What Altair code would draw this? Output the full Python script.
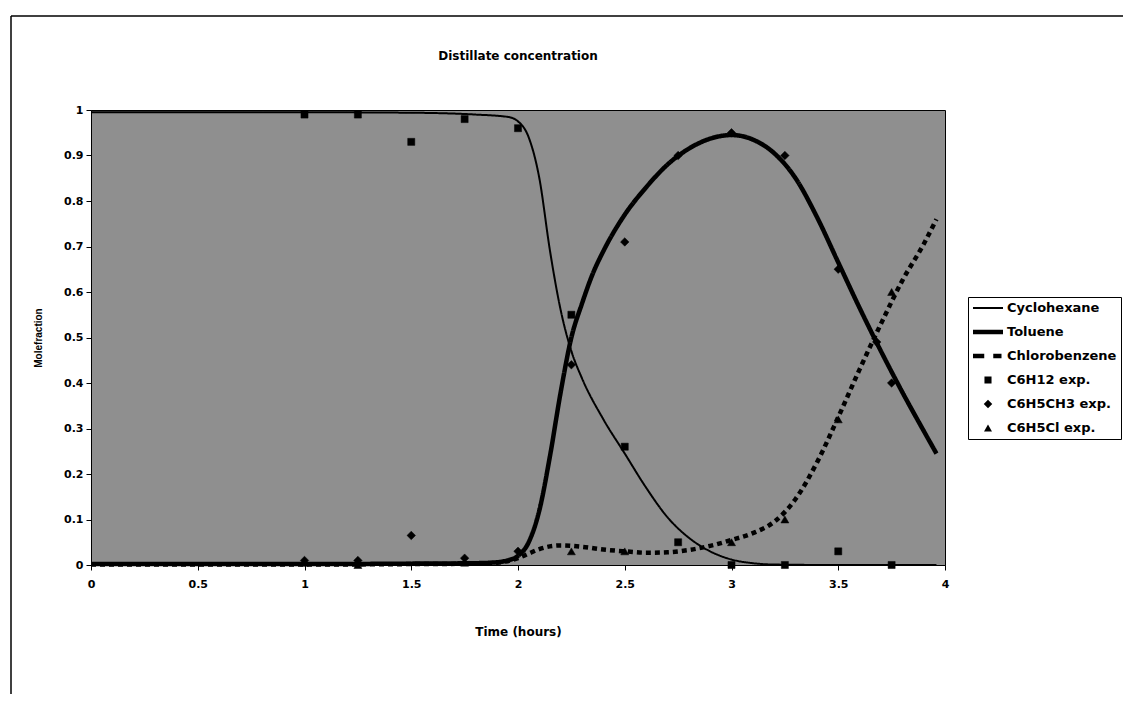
import altair as alt
import pandas as pd

# ---- model curves ----
cyc_t = [0, 0.5, 1.0, 1.5, 1.8, 1.95, 2.0, 2.05, 2.1, 2.15, 2.2, 2.25, 2.3, 2.4, 2.5, 2.6, 2.7, 2.8, 2.9, 3.0, 3.1, 3.2, 3.5, 3.96]
cyc_y = [0.995, 0.995, 0.995, 0.994, 0.99, 0.985, 0.975, 0.94, 0.85, 0.69, 0.56, 0.47, 0.41, 0.32, 0.245, 0.17, 0.105, 0.06, 0.03, 0.012, 0.004, 0.001, 0.0, 0.0]

tol_t = [0, 0.5, 1.0, 1.5, 1.8, 1.9, 1.95, 2.0, 2.05, 2.1, 2.15, 2.2, 2.25, 2.3, 2.35, 2.4, 2.5, 2.6, 2.7, 2.8, 2.9, 3.0, 3.1, 3.2, 3.3, 3.4, 3.5, 3.6, 3.7, 3.8, 3.9, 3.96]
tol_y = [0.002, 0.002, 0.002, 0.003, 0.004, 0.006, 0.01, 0.02, 0.05, 0.12, 0.24, 0.38, 0.50, 0.575, 0.64, 0.69, 0.77, 0.83, 0.88, 0.915, 0.937, 0.945, 0.935, 0.905, 0.85, 0.765, 0.665, 0.565, 0.47, 0.38, 0.295, 0.245]

chl_t = [0, 0.5, 1.0, 1.5, 1.8, 1.9, 2.0, 2.05, 2.1, 2.2, 2.3, 2.4, 2.5, 2.6, 2.7, 2.8, 2.9, 3.0, 3.1, 3.2, 3.3, 3.4, 3.5, 3.6, 3.7, 3.8, 3.9, 3.96]
chl_y = [0.001, 0.001, 0.001, 0.002, 0.003, 0.005, 0.015, 0.025, 0.035, 0.043, 0.04, 0.034, 0.03, 0.027, 0.028, 0.033, 0.042, 0.055, 0.07, 0.095, 0.145, 0.225, 0.325, 0.43, 0.53, 0.625, 0.705, 0.76]

# ---- experimental points ----
c6h12_t = [1.0, 1.25, 1.5, 1.75, 2.0, 2.25, 2.5, 2.75, 3.0, 3.25, 3.5, 3.75]
c6h12_y = [0.99, 0.99, 0.93, 0.98, 0.96, 0.55, 0.26, 0.05, 0.0, 0.0, 0.03, 0.0]

tol_exp_t = [1.0, 1.25, 1.5, 1.75, 2.0, 2.25, 2.5, 2.75, 3.0, 3.25, 3.5, 3.68, 3.75]
tol_exp_y = [0.01, 0.01, 0.065, 0.015, 0.03, 0.44, 0.71, 0.90, 0.95, 0.90, 0.65, 0.49, 0.40]

chl_exp_t = [1.0, 1.25, 1.75, 2.25, 2.5, 3.0, 3.25, 3.5, 3.75]
chl_exp_y = [0.005, 0.0, 0.005, 0.03, 0.03, 0.05, 0.10, 0.32, 0.60]

series_names = ["Cyclohexane", "Toluene", "Chlorobenzene", "C6H12 exp.", "C6H5CH3 exp.", "C6H5Cl exp."]

x_ticks = [0, 0.5, 1, 1.5, 2, 2.5, 3, 3.5, 4]
y_ticks = [0, 0.1, 0.2, 0.3, 0.4, 0.5, 0.6, 0.7, 0.8, 0.9, 1]

lines = pd.concat([
    pd.DataFrame({"time": cyc_t, "frac": cyc_y, "series": series_names[0]}),
    pd.DataFrame({"time": tol_t, "frac": tol_y, "series": series_names[1]}),
    pd.DataFrame({"time": chl_t, "frac": chl_y, "series": series_names[2]}),
], ignore_index=True)

points = pd.concat([
    pd.DataFrame({"time": c6h12_t, "frac": c6h12_y, "series": series_names[3]}),
    pd.DataFrame({"time": tol_exp_t, "frac": tol_exp_y, "series": series_names[4]}),
    pd.DataFrame({"time": chl_exp_t, "frac": chl_exp_y, "series": series_names[5]}),
], ignore_index=True)

FONT = "DejaVu Sans"

# legend glyphs for the three model lines (unit box -1..1, scaled by symbol size)
thin_line = "M-1,-0.07H1V0.07H-1Z"
thick_line = "M-1,-0.15H1V0.15H-1Z"
dash_line = "M-1,-0.15H-0.25V0.15H-1Z M0.35,-0.15H0.9V0.15H0.35Z"

leg = alt.Legend(
    title=None, orient="none", legendX=877, legendY=187,
    strokeColor="black", fillColor="white", padding=4, cornerRadius=0,
    clipHeight=14, rowPadding=10, labelOffset=3,
    labelFont=FONT, labelFontSize=13, labelFontWeight="bold", labelColor="black",
    symbolFillColor="black", symbolStrokeColor="black",
)

x_enc = alt.X("time:Q", scale=alt.Scale(domain=[0, 4], nice=False, zero=False),
              axis=alt.Axis(values=x_ticks, format="~g", title="Time (hours)",
                            grid=False, tickSize=5, labelPadding=8, titlePadding=37,
                            labelFont=FONT, labelFontSize=11, labelFontWeight="bold",
                            titleFont=FONT, titleFontSize=12, titleFontWeight="bold",
                            domainColor="black", tickColor="black", labelColor="black",
                            titleColor="black", labelFlush=False))
y_enc = alt.Y("frac:Q", scale=alt.Scale(domain=[0, 1], nice=False),
              axis=alt.Axis(values=y_ticks, format="~g", title="Molefraction",
                            grid=False, tickSize=5, labelPadding=3, titlePadding=20,
                            labelFont=FONT, labelFontSize=11, labelFontWeight="bold",
                            titleFont="Liberation Sans", titleFontSize=10, titleFontWeight="bold",
                            domainColor="black", tickColor="black", labelColor="black",
                            titleColor="black", labelFlush=False))

line_layer = alt.Chart(lines).mark_line(color="black", stroke="black", interpolate="monotone", strokeCap="butt").encode(
    x=x_enc, y=y_enc,
    detail="series:N",
    strokeDash=alt.StrokeDash("series:N", scale=alt.Scale(domain=series_names[:3],
                              range=[[1, 0], [1, 0], [5, 4]]), legend=None),
    strokeWidth=alt.StrokeWidth("series:N", scale=alt.Scale(type="ordinal", domain=series_names[:3],
                                range=[2, 4.5, 4.5]), legend=None),
)

point_layer = alt.Chart(points).mark_point(filled=True, fill="black", stroke="black",
                                           strokeWidth=0.5, opacity=1).encode(
    x="time:Q", y="frac:Q",
    shape=alt.Shape("series:N", scale=alt.Scale(domain=series_names,
                    range=[thin_line, thick_line, dash_line, "square", "diamond", "triangle-up"]), legend=leg),
    size=alt.Size("series:N", scale=alt.Scale(type="ordinal", domain=series_names,
                  range=[900, 900, 900, 50, 72, 64]), legend=leg),
)

frame_df = pd.DataFrame({"k": [0]})
frame_top = alt.Chart(frame_df).mark_rule(color="black", strokeWidth=1.5).encode(
    x=alt.value(-80), x2=alt.value(1200), y=alt.value(-94))
frame_left = alt.Chart(frame_df).mark_rule(color="black", strokeWidth=1.5).encode(
    x=alt.value(-80), y=alt.value(-94), y2=alt.value(700))

chart = alt.layer(frame_top, frame_left, line_layer, point_layer).properties(
    width=854, height=455,
    background="white",
    title=alt.TitleParams("Distillate concentration", font=FONT, fontSize=12,
                          fontWeight="bold", color="black", anchor="middle",
                          offset=0, dy=48),
    autosize=alt.AutoSizeParams(type="none"),
    padding={"left": 83, "top": 102, "right": 178, "bottom": 129},
).resolve_scale(
    strokeDash="independent", strokeWidth="independent"
).configure_view(
    fill="#8f8f8f", stroke="black", strokeWidth=1
)

chart.save("out.html", embed_options={"renderer": "svg", "actions": False})
